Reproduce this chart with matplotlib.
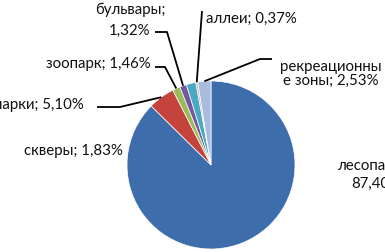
import matplotlib
matplotlib.use("Agg")
import matplotlib.pyplot as plt
import numpy as np

categories = ["лесопарки", "парки", "зоопарк", "бульвары", "скверы", "аллеи", "рекреационные зоны"]
values = [87.40, 5.10, 1.46, 1.32, 1.83, 0.37, 2.53]
label_texts = ["лесопарки;\n87,40%", "парки; 5,10%", "зоопарк; 1,46%", "бульвары;\n1,32%",
               "скверы; 1,83%", "аллеи; 0,37%", "рекреационны\nе зоны; 2,53%"]
colors = ["#3E6DAC", "#C4433C", "#9BBB59", "#7358A0", "#4BA8C2", "#C2B4A6", "#A9BCE0"]
explode = [0, 0.05, 0, 0, 0, 0, 0]

W, H = 385, 253
fig = plt.figure(figsize=(W / 100, H / 100), dpi=100)
ax = fig.add_axes([0, 0, 1, 1])
ax.set_xlim(0, W)
ax.set_ylim(0, H)
ax.set_aspect("equal")
ax.axis("off")

cx, cy, R = 211, H - 166, 84
wedges, _ = ax.pie(values, colors=colors, startangle=90, counterclock=False,
                   explode=explode, center=(cx, cy), radius=R, frame=True,
                   wedgeprops=dict(edgecolor="white", linewidth=0.5))
ax.set_xlim(0, W)
ax.set_ylim(0, H)
ax.axis("off")

font = dict(family=["Lato", "DejaVu Sans"], fontsize=10.8, color="#111111")

def mid(i):
    w = wedges[i]
    a = np.deg2rad((w.theta1 + w.theta2) / 2)
    c = w.center
    return c[0] + w.r * np.cos(a), c[1] + w.r * np.sin(a)

# label text positions (image pixel coordinates), alignment, line spacing
text_pos = {
    0: (376, 175, "center", 1.35),
    1: (-6, 105, "left", 1.2),
    2: (98, 64, "center", 1.2),
    3: (130, 20, "center", 1.6),
    4: (73, 151, "center", 1.2),
    5: (251, 19, "center", 1.2),
    6: (331, 74, "center", 1.05),
}
for i, (x, y, ha, ls) in text_pos.items():
    ax.text(x, H - y, label_texts[i], ha=ha, va="center", linespacing=ls, **font)

leaders = {
    1: [(97, 108), (120, 108)],
    2: [(155, 68), (165, 68)],
    3: [(155, 33), (167, 33)],
    5: [(202, 12)],
    6: [(272, 60), (260, 60)],
}
for i, pts in leaders.items():
    xs = [p[0] for p in pts]
    ys = [H - p[1] for p in pts]
    mx, my = mid(i)
    xs.append(mx)
    ys.append(my)
    ax.plot(xs, ys, color="black", lw=1.3, solid_capstyle="butt")

fig.savefig("out.png", dpi=100)
